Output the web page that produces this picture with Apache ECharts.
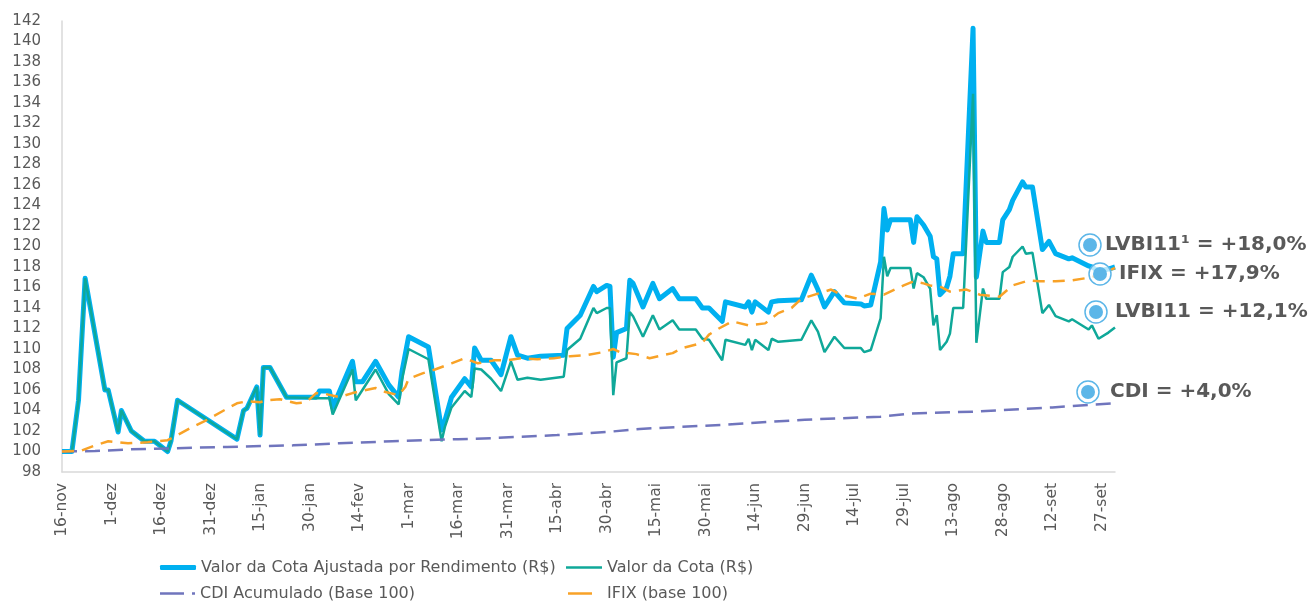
<!DOCTYPE html>
<html>
<head>
<meta charset="utf-8">
<script src="https://cdn.jsdelivr.net/npm/echarts@6/dist/echarts.min.js"></script>
<style>
  html, body { margin: 0; padding: 0; background: #fff; }
  #chart { width: 1314px; height: 601px; }
</style>
</head>
<body>
<div id="chart"></div>
<script>
// dias contados a partir de 16-nov
const tickLabels = ['16-nov', '1-dez', '16-dez', '31-dez', '15-jan', '30-jan', '14-fev', '1-mar', '16-mar', '31-mar', '15-abr',
  '30-abr', '15-mai', '30-mai', '14-jun', '29-jun', '14-jul', '29-jul', '13-ago', '28-ago', '12-set', '27-set']

const seriesNames = ['Valor da Cota Ajustada por Rendimento (R$)', 'Valor da Cota (R$)', 'CDI Acumulado (Base 100)', 'IFIX (base 100)']

const fundDays = [0, 3, 5, 7, 13, 14, 17, 18, 21, 25, 28, 32, 33, 35, 53, 55, 56, 59, 60, 61, 63, 68, 77, 78, 81, 82, 88, 89, 91, 95,
  99, 102, 103, 105, 111, 115, 116, 118, 122, 124, 125, 127, 130, 133, 136, 138, 141, 145, 152, 153, 157, 161, 162, 165, 166, 167,
  168, 171, 172, 173, 176, 179, 181, 185, 187, 192, 194, 196, 200, 201, 207, 208, 209, 210, 214, 215, 217, 224, 227, 229, 231, 234,
  237, 242, 243, 245, 248, 249, 250, 251, 257, 258, 259, 261, 263, 264, 265, 266, 268, 269, 270, 273, 276, 277, 279, 280, 284, 285,
  287, 288, 291, 292, 294, 297, 299, 301, 305, 306, 311, 312, 314, 317, 319]

const cotaAjustada = [100.0, 100.0, 105.0, 116.9, 106.0, 106.0, 101.9, 104.0, 102.0, 101.0, 101.0, 100.0, 101.0, 105.0, 101.2, 104.0,
  104.2, 106.3, 101.6, 108.2, 108.2, 105.3, 105.3, 105.9, 105.9, 104.3, 108.8, 106.8, 106.8, 108.8, 106.5, 105.3, 107.8, 111.2, 110.2,
  102.1, 103.0, 105.3, 107.1, 106.3, 110.1, 108.9, 108.9, 107.5, 111.2, 109.4, 109.1, 109.3, 109.4, 112.0, 113.3, 116.1, 115.6, 116.2,
  116.1, 109.2, 111.6, 112.0, 116.7, 116.4, 114.1, 116.4, 114.9, 115.9, 114.9, 114.9, 114.0, 114.0, 112.7, 114.6, 114.1, 114.6, 113.6,
  114.6, 113.6, 114.6, 114.7, 114.8, 117.2, 115.8, 114.1, 115.6, 114.5, 114.4, 114.2, 114.3, 118.5, 123.7, 121.6, 122.6, 122.6, 120.4,
  122.9, 122.1, 121.0, 119.0, 118.8, 115.3, 116.0, 117.1, 119.3, 119.3, 141.3, 117.0, 121.5, 120.4, 120.4, 122.6, 123.6, 124.5, 126.3,
  125.8, 125.8, 119.7, 120.5, 119.3, 118.8, 118.9, 118.1, 118.0, 117.6, 117.8, 118.0]

const cotaValor = [100.0, 100.0, 105.0, 116.9, 106.0, 106.0, 101.9, 104.0, 102.0, 101.0, 101.0, 100.0, 101.0, 105.0, 101.2, 104.0,
  104.2, 106.3, 101.6, 108.2, 108.2, 105.3, 105.2, 105.2, 105.2, 103.6, 108.0, 105.0, 106.0, 108.0, 105.6, 104.6, 107.0, 110.0, 109.0,
  101.0, 102.4, 104.3, 105.9, 105.3, 108.1, 108.0, 107.1, 105.9, 108.8, 107.0, 107.2, 107.0, 107.3, 109.9, 111.0, 114.0, 113.5, 114.0,
  114.0, 105.5, 108.7, 109.1, 113.6, 113.2, 111.2, 113.3, 111.9, 112.8, 111.9, 111.9, 111.0, 110.9, 108.9, 110.9, 110.4, 111.0, 109.9,
  110.9, 109.9, 111.0, 110.7, 110.9, 112.8, 111.7, 109.7, 111.2, 110.1, 110.1, 109.7, 109.9, 113.0, 119.0, 117.1, 117.9, 117.9, 115.9,
  117.4, 117.0, 115.9, 112.3, 113.3, 109.9, 110.7, 111.5, 114.0, 114.0, 134.9, 110.6, 115.9, 114.9, 114.9, 117.5, 118.0, 119.0, 120.0,
  119.3, 119.4, 113.5, 114.3, 113.2, 112.7, 112.9, 111.9, 112.3, 111.0, 111.6, 112.1]

const ifixDays = [0, 6, 10, 14, 20, 26, 32, 35, 39, 44, 49, 53, 56, 60, 62, 66, 71, 74, 77, 80, 84, 88, 95, 98, 102, 104, 105, 109,
  113, 118, 122, 126, 131, 135, 139, 144, 149, 154, 159, 164, 167, 169, 174, 178, 185, 188, 194, 196, 199, 203, 208, 213, 217, 221,
  224, 229, 233, 236, 241, 245, 249, 255, 258, 261, 263, 266, 269, 274, 278, 284, 288, 293, 296, 301, 306, 312, 319]
const ifixVals = [100.0, 100.1, 100.6, 101.0, 100.8, 100.9, 101.1, 101.6, 102.3, 103.1, 104.0, 104.7, 104.9, 104.8, 105.0, 105.1,
  104.7, 104.8, 105.7, 105.6, 105.3, 105.7, 106.2, 105.8, 105.5, 106.3, 107.1, 107.6, 108.0, 108.6, 109.1, 108.6, 108.9, 108.9, 109.1,
  109.0, 109.1, 109.3, 109.4, 109.7, 110.0, 109.7, 109.5, 109.1, 109.6, 110.1, 110.6, 111.4, 112.0, 112.7, 112.3, 112.5, 113.5, 114.0,
  114.9, 115.4, 115.8, 115.3, 114.9, 115.4, 115.3, 116.2, 116.6, 116.4, 116.2, 116.1, 115.6, 115.8, 115.3, 115.1, 116.2, 116.7, 116.6,
  116.6, 116.7, 117.0, 117.9]

const cdiDays = [0, 10, 20, 32, 50, 70, 84, 100, 120, 130, 150, 165, 175, 200, 225, 248, 257, 277, 300, 319]
const cdiVals = [100.0, 100.05, 100.2, 100.3, 100.45, 100.6, 100.8, 101.0, 101.2, 101.3, 101.6, 101.9, 102.2, 102.6, 103.1, 103.4,
  103.7, 103.9, 104.3, 104.7]

const pairs = (xs, ys) => xs.map((x, i) => [x, ys[i]])

const chart = echarts.init(document.getElementById('chart'))
const font = 'DejaVu Sans'
const grey = '#595959'

const legendItem = (name, left, centerY, width, height, icon, extra) => Object.assign({
  data: [name],
  left,
  top: centerY - 7.5,
  padding: 0,
  itemWidth: width,
  itemHeight: height,
  icon,
  symbolKeepAspect: false,
  selectedMode: false,
  textStyle: { fontFamily: font, fontSize: 16, color: grey }
}, extra || {})

const badge = (cx, cy, tx, text) => [
  { type: 'circle', shape: { cx, cy, r: 11 }, style: { fill: 'rgba(255,255,255,0.7)', stroke: '#5cb6e8', lineWidth: 1.5 }, z: 100 },
  { type: 'circle', shape: { cx, cy, r: 7 }, style: { fill: '#5cb6e8' }, z: 101 },
  { type: 'text', x: tx, y: cy, style: { text, fontFamily: font, fontWeight: 'bold', fontSize: 20, fill: grey, verticalAlign: 'middle' }, z: 101 }
]

chart.setOption({
  animation: false,
  backgroundColor: '#fff',
  grid: { left: 62, right: 199, top: 21, bottom: 129, containLabel: false },
  xAxis: {
    type: 'value',
    min: 0,
    max: 319,
    interval: 15,
    axisLine: { lineStyle: { color: '#d9d9d9', width: 1.5 } },
    axisTick: { show: false },
    splitLine: { show: false },
    axisLabel: {
      rotate: 90,
      margin: 11,
      showMaxLabel: false,
      fontFamily: font,
      fontSize: 15.5,
      color: grey,
      formatter: v => (v % 15 === 0 ? tickLabels[v / 15] || '' : '')
    }
  },
  yAxis: {
    type: 'value',
    min: 98,
    max: 142,
    interval: 2,
    axisLine: { show: true, lineStyle: { color: '#d9d9d9', width: 1.5 } },
    axisTick: { show: false },
    splitLine: { show: false },
    axisLabel: { margin: 21, fontFamily: font, fontSize: 15, color: grey }
  },
  legend: [
    legendItem(seriesNames[0], 160, 567, 36, 5, 'roundRect'),
    legendItem(seriesNames[1], 566, 567, 36, 2.5, 'rect'),
    legendItem(seriesNames[2], 160, 593, 35, 2.5, 'path://M0,0H24V2.5H0Z M32,0H35V2.5H32Z'),
    legendItem(seriesNames[3], 568, 593, 24, 2.5, 'rect',
      { textStyle: { fontFamily: font, fontSize: 16, color: grey, padding: [0, 0, 0, 10] } })
  ],
  series: [
    {
      name: seriesNames[0], type: 'line', symbol: 'none', z: 2,
      data: pairs(fundDays, cotaAjustada),
      lineStyle: { color: '#00b0f0', width: 5, join: 'round' },
      itemStyle: { color: '#00b0f0' }
    },
    {
      name: seriesNames[1], type: 'line', symbol: 'none', z: 3,
      data: pairs(fundDays, cotaValor),
      lineStyle: { color: '#0fa899', width: 2.5 },
      itemStyle: { color: '#0fa899' }
    },
    {
      name: seriesNames[2], type: 'line', symbol: 'none', z: 4,
      data: pairs(cdiDays, cdiVals),
      lineStyle: { color: '#7075bd', width: 2.5, type: [15, 8] },
      itemStyle: { color: '#7075bd' }
    },
    {
      name: seriesNames[3], type: 'line', symbol: 'none', z: 5,
      data: pairs(ifixDays, ifixVals),
      lineStyle: { color: '#f8a227', width: 2.5, type: [12, 8] },
      itemStyle: { color: '#f8a227' }
    }
  ],
  graphic: [].concat(
    badge(1090, 245, 1105, 'LVBI11¹ = +18,0%'),
    badge(1100, 274, 1119, 'IFIX = +17,9%'),
    badge(1096, 312, 1115, 'LVBI11 = +12,1%'),
    badge(1088, 392, 1110, 'CDI = +4,0%')
  )
})
</script>
</body>
</html>
